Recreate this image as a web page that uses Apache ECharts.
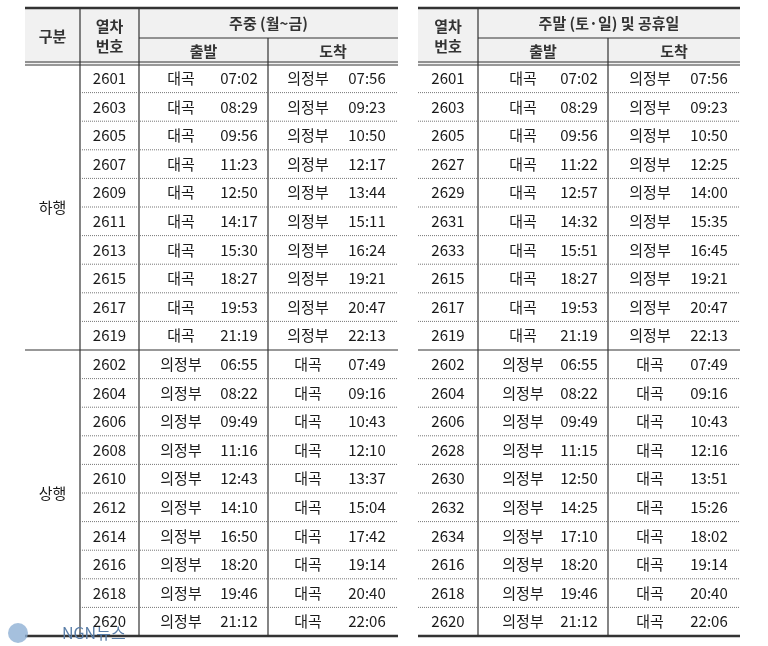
<!DOCTYPE html>
<html><head><meta charset="utf-8">
<script src="https://cdn.jsdelivr.net/npm/echarts@6/dist/echarts.min.js"></script>
<style>html,body{margin:0;padding:0;background:#fff}#c{width:768px;height:646px}</style>
</head><body><div id="c"></div>
<script>
const groups = ['하행', '상행'];
const stationsDown = ['대곡', '의정부'];
const stationsUp = ['의정부', '대곡'];
const wkTrains = ['2601','2603','2605','2607','2609','2611','2613','2615','2617','2619','2602','2604','2606','2608','2610','2612','2614','2616','2618','2620'];
const wkDep = ['07:02','08:29','09:56','11:23','12:50','14:17','15:30','18:27','19:53','21:19','06:55','08:22','09:49','11:16','12:43','14:10','16:50','18:20','19:46','21:12'];
const wkArr = ['07:56','09:23','10:50','12:17','13:44','15:11','16:24','19:21','20:47','22:13','07:49','09:16','10:43','12:10','13:37','15:04','17:42','19:14','20:40','22:06'];
const heTrains = ['2601','2603','2605','2627','2629','2631','2633','2615','2617','2619','2602','2604','2606','2628','2630','2632','2634','2616','2618','2620'];
const heDep = ['07:02','08:29','09:56','11:22','12:57','14:32','15:51','18:27','19:53','21:19','06:55','08:22','09:49','11:15','12:50','14:25','17:10','18:20','19:46','21:12'];
const heArr = ['07:56','09:23','10:50','12:25','14:00','15:35','16:45','19:21','20:47','22:13','07:49','09:16','10:43','12:16','13:51','15:26','18:02','19:14','20:40','22:06'];
const headers = ['구분', '열차\n번호', '주중 (월~금)', '주말 (토·일) 및 공휴일', '출발', '도착'];

const L = {top: 8, mid: 38, hb: 64, rowH: 28.6, n: 20,
  left: {x0: 25, c1: 80, c2: 139, c3: 268, x1: 398},
  right: {x0: 418, c2: 478, c3: 608, x1: 740}};

const chart = echarts.init(document.getElementById('c'));
const FONT = '"Noto Sans CJK KR", "Noto Sans", sans-serif';
function txt(api, x, y, s, opt) {
  const p = api.coord([x, y]);
  return {type: 'text', style: Object.assign({x: p[0], y: p[1], text: s, font: '15px ' + FONT, fill: '#1a1a1a', align: 'center', verticalAlign: 'middle'}, opt || {})};
}
function ln(api, x1, y1, x2, y2, w, dash, col) {
  const a = api.coord([x1, y1]), b = api.coord([x2, y2]);
  return {type: 'line', shape: {x1: a[0], y1: a[1], x2: b[0], y2: b[1]}, style: {stroke: col || '#333', lineWidth: w, lineDash: dash || null}};
}
function rect(api, x1, y1, x2, y2, fill) {
  const a = api.coord([x1, y1]), b = api.coord([x2, y2]);
  return {type: 'rect', shape: {x: a[0], y: a[1], width: b[0] - a[0], height: b[1] - a[1]}, style: {fill: fill}};
}

function renderRow(params, api) {
  const i = api.value(0);
  const y0 = L.hb + i * L.rowH, yc = y0 + L.rowH / 2, y1 = y0 + L.rowH;
  const up = i >= 10;
  const st = up ? stationsUp : stationsDown;
  const ch = [];
  const lt = L.left, rt = L.right;
  ch.push(txt(api, (lt.c1 + lt.c2) / 2, yc, wkTrains[i]));
  ch.push(txt(api, lt.c2 + 42, yc, st[0]));
  ch.push(txt(api, lt.c3 - 29, yc, wkDep[i]));
  ch.push(txt(api, lt.c3 + 40, yc, st[1]));
  ch.push(txt(api, lt.x1 - 31, yc, wkArr[i]));
  ch.push(txt(api, (rt.x0 + rt.c2) / 2, yc, heTrains[i]));
  ch.push(txt(api, rt.c2 + 45, yc, st[0]));
  ch.push(txt(api, rt.c3 - 29, yc, heDep[i]));
  ch.push(txt(api, rt.c3 + 42, yc, st[1]));
  ch.push(txt(api, rt.x1 - 31, yc, heArr[i]));
  if (i !== 9 && i !== 19) {
    ch.push(ln(api, lt.c1, y1, lt.x1, y1, 1, [1, 1], '#777'));
    ch.push(ln(api, rt.x0, y1, rt.x1, y1, 1, [1, 1], '#777'));
  }
  if (i === 9) ch.push(ln(api, lt.x0, y1, lt.x1, y1, 1.2, null, '#333'), ln(api, rt.x0, y1, rt.x1, y1, 1.2, null, '#333'));
  if (i === 4 || i === 14) ch.push(txt(api, (lt.x0 + lt.c1) / 2, y1, groups[up ? 1 : 0]));
  return {type: 'group', children: ch};
}

function renderFrame(params, api) {
  const lt = L.left, rt = L.right;
  const bot = L.hb + L.n * L.rowH;
  const ch = [];
  ch.push(rect(api, lt.x0, L.top, lt.x1, L.hb, '#f1f1f1'));
  ch.push(rect(api, rt.x0, L.top, rt.x1, L.hb, '#f1f1f1'));
  const hs = {font: 'bold 15px ' + FONT, fill: '#333', lineHeight: 20};
  ch.push(txt(api, (lt.x0 + lt.c1) / 2, 36, headers[0], hs));
  ch.push(txt(api, (lt.c1 + lt.c2) / 2, 36, headers[1], hs));
  ch.push(txt(api, (lt.c2 + lt.x1) / 2, 23, headers[2], hs));
  ch.push(txt(api, (lt.c2 + lt.c3) / 2, 51, headers[4], hs));
  ch.push(txt(api, (lt.c3 + lt.x1) / 2, 51, headers[5], hs));
  ch.push(txt(api, (rt.x0 + rt.c2) / 2, 36, headers[1], hs));
  ch.push(txt(api, (rt.c2 + rt.x1) / 2, 23, headers[3], hs));
  ch.push(txt(api, (rt.c2 + rt.c3) / 2, 51, headers[4], hs));
  ch.push(txt(api, (rt.c3 + rt.x1) / 2, 51, headers[5], hs));
  [[lt.x0, lt.x1], [rt.x0, rt.x1]].forEach(function (s) {
    ch.push(ln(api, s[0], L.top, s[1], L.top, 2.5));
    ch.push(ln(api, s[0], L.hb - 2, s[1], L.hb - 2, 1.2));
    ch.push(ln(api, s[0], L.hb + 1, s[1], L.hb + 1, 1.2));
    ch.push(ln(api, s[0], bot, s[1], bot, 2.5));
  });
  ch.push(ln(api, lt.c2, L.mid, lt.x1, L.mid, 1));
  ch.push(ln(api, rt.c2, L.mid, rt.x1, L.mid, 1));
  [lt.c1, lt.c2].forEach(function (x) { ch.push(ln(api, x, L.top, x, bot, 1.2)); });
  ch.push(ln(api, lt.c3, L.mid, lt.c3, bot, 1.2));
  ch.push(ln(api, rt.c2, L.top, rt.c2, bot, 1.2));
  ch.push(ln(api, rt.c3, L.mid, rt.c3, bot, 1.2));
  ch.push(txt(api, 62, 633, 'NGN뉴스', {font: '16px ' + FONT, fill: '#5a7ea8', align: 'left'}));
  const c = api.coord([18, 633]);
  ch.push({type: 'circle', shape: {cx: c[0], cy: c[1], r: 10}, style: {fill: '#8fb0d4', opacity: 0.8}});
  return {type: 'group', children: ch};
}

chart.setOption({
  animation: false,
  grid: {left: 0, right: 0, top: 0, bottom: 0},
  xAxis: {type: 'value', min: 0, max: 768, show: false},
  yAxis: {type: 'value', min: 0, max: 646, inverse: true, show: false},
  series: [
    {type: 'custom', renderItem: renderFrame, data: [[0]], silent: true},
    {type: 'custom', renderItem: renderRow, data: wkTrains.map(function (_, i) { return [i]; }), silent: true}
  ]
});
</script></body></html>
